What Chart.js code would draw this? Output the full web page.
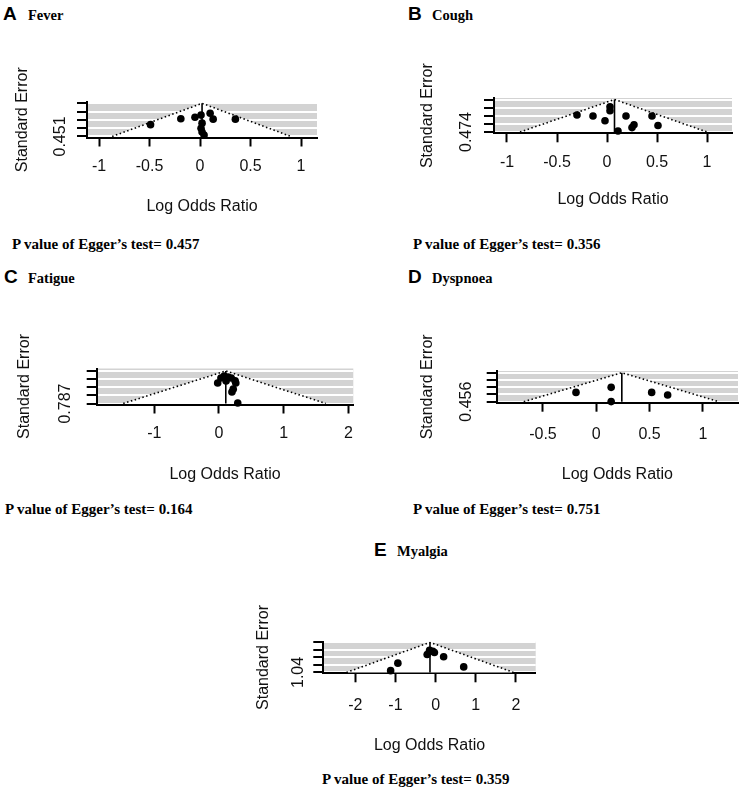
<!DOCTYPE html>
<html>
<head>
<meta charset="utf-8">
<script src="https://cdn.jsdelivr.net/npm/chart.js@4.4.1/dist/chart.umd.min.js"></script>
<style>
  body { margin: 0; background: #fff; }
  #figure { position: relative; width: 750px; height: 799px; overflow: hidden; background: #fff; }
  #figure canvas { position: absolute; }
  .tag { position: absolute; font: bold 19px 'Liberation Sans', Arial, sans-serif; line-height: 19px; white-space: nowrap; color: #000; }
  .serif { position: absolute; font: bold 14.5px 'Liberation Serif', 'Times New Roman', serif; line-height: 14.5px; white-space: nowrap; color: #000; }
  .egger { font-size: 15px; line-height: 15px; }
</style>
</head>
<body>
<div id="figure"></div>
<script>
// labels of the five panels
var panelTags = ['A', 'B', 'C', 'D', 'E'];
var symptoms = ['Fever', 'Cough', 'Fatigue', 'Dyspnoea', 'Myalgia'];
var eggerP = ['0.457', '0.356', '0.164', '0.751', '0.359'];

// studies: log odds ratio and standard error
var feverLogOR = [-0.49, -0.19, -0.05, 0.01, 0.1, 0.13, 0.35, 0.02, 0.01, 0.02, 0.04];
var feverSE = [0.29, 0.21, 0.19, 0.16, 0.135, 0.215, 0.215, 0.27, 0.34, 0.39, 0.43];
var coughLogOR = [-0.3, -0.14, -0.02, 0.03, 0.03, 0.11, 0.19, 0.25, 0.27, 0.45, 0.51];
var coughSE = [0.225, 0.24, 0.31, 0.105, 0.165, 0.46, 0.24, 0.41, 0.37, 0.24, 0.38];
var fatigueLogOR = [-0.02, 0.03, 0.08, 0.14, 0.19, 0.25, 0.26, 0.11, 0.22, 0.2, 0.29];
var fatigueSE = [0.29, 0.17, 0.12, 0.145, 0.17, 0.24, 0.29, 0.24, 0.44, 0.51, 0.775];
var dyspnoeaLogOR = [-0.19, 0.14, 0.14, 0.52, 0.67];
var dyspnoeaSE = [0.31, 0.23, 0.455, 0.31, 0.35];
var myalgiaLogOR = [-1.12, -0.94, -0.21, -0.15, -0.07, -0.03, 0.2, 0.7];
var myalgiaSE = [0.98, 0.72, 0.42, 0.27, 0.31, 0.35, 0.5, 0.85];

// funnel: left foot, apex (pooled estimate), right foot
var feverFunnel = [-0.87, 0.02, 0.9];
var coughFunnel = [-0.87, 0.075, 1.0];
var fatigueFunnel = [-1.48, 0.105, 1.65];
var dyspnoeaFunnel = [-0.68, 0.24, 1.15];
var myalgiaFunnel = [-2.22, -0.14, 1.94];

// axis ticks
var feverSeTicks = [0, 0.113, 0.226, 0.338, 0.451];
var coughSeTicks = [0, 0.119, 0.237, 0.356, 0.474];
var fatigueSeTicks = [0, 0.197, 0.394, 0.59, 0.787];
var dyspnoeaSeTicks = [0, 0.114, 0.228, 0.342, 0.456];
var myalgiaSeTicks = [0, 0.26, 0.52, 0.78, 1.04];
var feverXTicks = [-1, -0.5, 0, 0.5, 1];
var coughXTicks = [-1, -0.5, 0, 0.5, 1];
var fatigueXTicks = [-1, 0, 1, 2];
var dyspnoeaXTicks = [-0.5, 0, 0.5, 1];
var myalgiaXTicks = [-2, -1, 0, 1, 2];

var panels = [
  { logOR: feverLogOR, se: feverSE, funnel: feverFunnel, seTicks: feverSeTicks, xTicks: feverXTicks,
    area: {l: 87, r: 317, t: 102, b: 137.5}, xRange: [-1.119, 1.158], yRange: [-0.018, 0.465],
    yTitleX: 22.5, yLabelGap: 26, xLabelGap: 29.5, xTitleY: 207, tag: [3, 4], name: [28, 8], p: [12, 237] },
  { logOR: coughLogOR, se: coughSE, funnel: coughFunnel, seTicks: coughSeTicks, xTicks: coughXTicks,
    area: {l: 494, r: 732, t: 98, b: 133.3}, xRange: [-1.13, 1.25], yRange: [-0.022, 0.493],
    yTitleX: 427.5, yLabelGap: 27.3, xLabelGap: 29.2, xTitleY: 199.5, tag: [408, 4], name: [432, 8], p: [413, 237] },
  { logOR: fatigueLogOR, se: fatigueSE, funnel: fatigueFunnel, seTicks: fatigueSeTicks, xTicks: fatigueXTicks,
    area: {l: 96.7, r: 353.3, t: 368.5, b: 404.5}, xRange: [-1.89, 2.076], yRange: [-0.06, 0.811],
    yTitleX: 25, yLabelGap: 31, xLabelGap: 29.5, xTitleY: 474.5, tag: [4, 267], name: [28, 271], p: [5, 502] },
  { logOR: dyspnoeaLogOR, se: dyspnoeaSE, funnel: dyspnoeaFunnel, seTicks: dyspnoeaSeTicks, xTicks: dyspnoeaXTicks,
    area: {l: 496.7, r: 738, t: 371, b: 402.7}, xRange: [-0.934, 1.33], yRange: [-0.027, 0.472],
    yTitleX: 427.5, yLabelGap: 30, xLabelGap: 31.5, xTitleY: 475, tag: [408, 267], name: [432, 271], p: [413, 502] },
  { logOR: myalgiaLogOR, se: myalgiaSE, funnel: myalgiaFunnel, seTicks: myalgiaSeTicks, xTicks: myalgiaXTicks,
    area: {l: 323.3, r: 535.7, t: 641.7, b: 673.3}, xRange: [-2.797, 2.493], yRange: [-0.024, 1.071],
    yTitleX: 264, yLabelGap: 25, xLabelGap: 32.7, xTitleY: 746, tag: [374, 540], name: [397, 544], p: [322, 772] }
];

var sansFamily = "'Liberation Sans', Arial, sans-serif";
var ink = '#000';

// grey plotting region like metafor's funnel()
var backdrop = {
  id: 'backdrop',
  beforeDraw: function (chart) {
    var a = chart.chartArea, ctx = chart.ctx;
    ctx.save();
    ctx.fillStyle = '#d3d3d3';
    ctx.fillRect(a.left, a.top, a.right - a.left, a.bottom - a.top);
    ctx.restore();
  }
};

var measure = document.createElement('canvas').getContext('2d');
measure.font = '16px ' + sansFamily;

function addText(cls, text, pos) {
  var d = document.createElement('div');
  d.className = cls;
  d.textContent = text;
  d.style.left = pos[0] + 'px';
  d.style.top = pos[1] + 'px';
  document.getElementById('figure').appendChild(d);
}

function drawPanel(p, i) {
  var a = p.area;
  var yW = 80, xH = 85;
  // leave room above the plot so the rotated axis title is not cut
  var left = Math.floor(a.l) - yW, top = Math.floor(a.t) - 60;
  var width = Math.ceil(a.r) + 4 - left, height = Math.ceil(a.b) + xH - top;
  var pad = { left: a.l - yW - left, top: a.t - top, right: left + width - a.r, bottom: top + height - xH - a.b };

  var canvas = document.createElement('canvas');
  canvas.width = width;
  canvas.height = height;
  canvas.style.left = left + 'px';
  canvas.style.top = top + 'px';
  canvas.style.width = width + 'px';
  canvas.style.height = height + 'px';
  document.getElementById('figure').appendChild(canvas);

  var seMax = p.seTicks[p.seTicks.length - 1];
  var seLabel = String(seMax);
  var halfLabel = measure.measureText(seLabel).width / 2;

  var points = p.logOR.map(function (x, k) { return {x: x, y: p.se[k]}; });
  var funnel = [{x: p.funnel[0], y: seMax}, {x: p.funnel[1], y: 0}, {x: p.funnel[2], y: seMax}];
  var centre = [{x: p.funnel[1], y: 0}, {x: p.funnel[1], y: seMax}];

  new Chart(canvas, {
    type: 'scatter',
    data: {
      datasets: [
        { data: points, backgroundColor: ink, borderColor: ink, borderWidth: 0, pointRadius: 3.8, pointHoverRadius: 3.8, clip: false, order: 0 },
        { type: 'line', data: centre, borderColor: ink, borderWidth: 1.6, pointRadius: 0, fill: false, order: 1 },
        { type: 'line', data: funnel, borderColor: ink, borderWidth: 1.6, borderDash: [1.5, 2.5], pointRadius: 0,
          tension: 0, fill: {value: seMax}, backgroundColor: '#fff', order: 2 }
      ]
    },
    options: {
      responsive: false,
      animation: false,
      devicePixelRatio: 1,
      events: [],
      layout: { padding: pad },
      plugins: { legend: { display: false }, tooltip: { enabled: false } },
      scales: {
        x: {
          type: 'linear',
          bounds: 'data',
          min: p.xRange[0],
          max: p.xRange[1],
          afterBuildTicks: function (s) { s.ticks = p.xTicks.map(function (v) { return {value: v}; }); },
          afterFit: function (s) { s.height = xH; s.paddingLeft = 0; s.paddingRight = 0; },
          grid: { drawOnChartArea: false, drawTicks: true, tickLength: 9, tickColor: ink, tickWidth: 2 },
          border: { display: true, color: ink, width: 2 },
          ticks: {
            autoSkip: false, maxRotation: 0, color: '#111', padding: p.xLabelGap - 9 - 9.6,
            font: { family: sansFamily, size: 16 },
            callback: function (v, k) { return String(p.xTicks[k]); }
          },
          title: {
            display: true, text: 'Log Odds Ratio', color: '#111',
            font: { family: sansFamily, size: 16 },
            padding: { top: 0, bottom: (top + height - pad.bottom) - p.xTitleY - 9.6 }
          }
        },
        y: {
          type: 'linear',
          bounds: 'data',
          reverse: true,
          min: p.yRange[0],
          max: p.yRange[1],
          afterBuildTicks: function (s) { s.ticks = p.seTicks.map(function (v) { return {value: v}; }); },
          afterFit: function (s) { s.width = yW; s.paddingTop = 0; s.paddingBottom = 0; },
          grid: { color: '#fff', lineWidth: 2, drawTicks: true, tickLength: 10, tickColor: ink, tickWidth: 2 },
          border: { display: true, color: ink, width: 2 },
          ticks: {
            autoSkip: false, minRotation: 90, maxRotation: 90, crossAlign: 'center', color: '#111',
            padding: p.yLabelGap - 10 - halfLabel,
            font: { family: sansFamily, size: 16 },
            callback: function (v, k) { return k === p.seTicks.length - 1 ? seLabel : ''; }
          },
          title: {
            display: true, text: 'Standard Error', color: '#111',
            font: { family: sansFamily, size: 16 },
            padding: { top: p.yTitleX - (left + pad.left) - 9.6, bottom: 0 }
          }
        }
      }
    },
    plugins: [backdrop]
  });

  addText('tag', panelTags[i], p.tag);
  addText('serif', symptoms[i], p.name);
  addText('serif egger', 'P value of Egger\u2019s test= ' + eggerP[i], p.p);
}

panels.forEach(drawPanel);
</script>
</body>
</html>
